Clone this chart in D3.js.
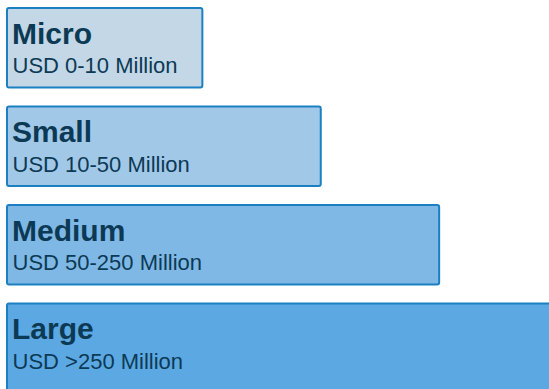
<!DOCTYPE html>
<html>
<head>
<meta charset="utf-8">
<script src="https://cdn.jsdelivr.net/npm/d3@7"></script>
<style>
  html, body { margin: 0; padding: 0; background: #fff; }
  svg { display: block; }
</style>
</head>
<body>
<svg id="chart"></svg>
<script>
// company size tiers, smallest first
var tiers = ['Micro', 'Small', 'Medium', 'Large'];
var ranges = ['USD 0-10 Million', 'USD 10-50 Million', 'USD 50-250 Million', 'USD >250 Million'];
var lengths = [33, 53, 73, 93];
var fills = ['#c3d7e7', '#a2c8e8', '#7fb8e5', '#5ca8e3'];

var width = 549, height = 389;

var svg = d3.select('#chart')
	.attr('width', width)
	.attr('height', height);

var x = d3.scaleLinear()
	.domain([0, 100])
	.range([0, 592]);

var y = d3.scaleBand()
	.domain(tiers)
	.range([8, 383])
	.paddingInner(0.193)
	.paddingOuter(0);

var rows = svg.selectAll('g.tier')
	.data(tiers)
	.enter().append('g')
	.attr('class', 'tier')
	.attr('transform', function (d) {
		return 'translate(7,' + y(d) + ')';
	});

// the last box runs off the bottom of the frame
rows.append('rect')
	.attr('width', function (d, i) { return x(lengths[i]); })
	.attr('height', function (d, i) {
		return i === tiers.length - 1 ? height - y(d) + 10 : y.bandwidth();
	})
	.attr('rx', 2)
	.style('fill', function (d, i) { return fills[i]; })
	.style('stroke', '#1b80c1')
	.style('stroke-width', 2);

rows.append('text')
	.attr('x', 5)
	.attr('y', 35.5)
	.style('font-family', '"Liberation Sans", Arial, sans-serif')
	.style('font-weight', 'bold')
	.style('font-size', '30px')
	.style('fill', '#0c3a55')
	.text(function (d) { return d; });

rows.append('text')
	.attr('x', 5.5)
	.attr('y', 65)
	.style('font-family', '"Liberation Sans", Arial, sans-serif')
	.style('font-size', '22px')
	.style('fill', '#0c3a55')
	.text(function (d, i) { return ranges[i]; });
</script>
</body>
</html>
